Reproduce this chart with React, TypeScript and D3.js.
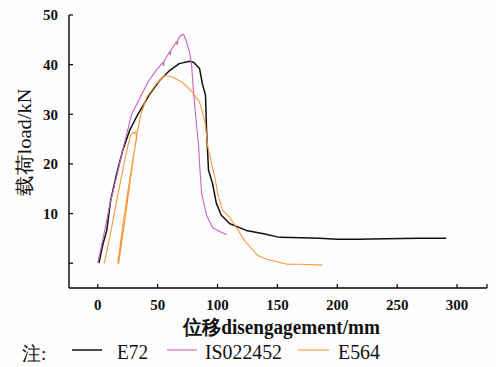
import React from 'react';
import * as d3 from 'd3';

// load (kN) vs disengagement (mm)
const e72: [number, number][] = [
  [1, 0], [4, 3.5], [7.5, 6.6], [10.8, 12.7], [15, 17.2], [20.8, 22.7], [26.7, 26.8],
  [33.5, 30], [37.5, 31.6], [43, 33.9], [51.7, 36.8], [60, 38.8], [68, 40.2], [76.7, 40.7],
  [80, 40.5], [85, 39.2], [87.5, 36], [90, 33.8], [90.8, 27], [92.5, 18.7], [95.8, 16.1],
  [99, 12.1], [103, 9.7], [110, 8.0], [124, 6.6], [137.5, 6.0], [152, 5.2], [170, 5.1],
  [185, 5.0], [200, 4.8], [218, 4.8], [240, 4.9], [268, 5.0], [291, 5.0],
];

const iso22452: [number, number][] = [
  [0, 0], [5, 5.6], [10, 11.7], [16, 17.7], [21.7, 23.7], [28.3, 30], [35, 33.2],
  [41.7, 36.4], [48.3, 38.7], [54.2, 40.4], [55, 39.8], [55.4, 40.7], [60, 42.6], [60.6, 42],
  [61, 42.9], [65.8, 44.6], [66.4, 44], [66.8, 45], [69.2, 45.9], [71.7, 46.1], [74.2, 44.5],
  [76.7, 42.5], [78.3, 40], [80, 34.4], [82.5, 27.8], [84.2, 23.7], [85, 20.1], [86.7, 14.1],
  [90.8, 9.7], [95.8, 7.2], [101.7, 6.4], [107.5, 5.8],
];

const e564: [number, number][] = [
  [5.5, 0], [10, 5.2], [15, 11.5], [19.2, 16.7], [24.2, 22.7], [27.5, 25.8], [29.2, 26.2],
  [31.7, 26.4], [32.5, 25.2], [29.2, 20.7], [22.5, 10.3], [16.7, 0], [17.5, 0], [23.3, 9.7],
  [28.3, 18.7], [32.5, 25.8], [35.8, 29.8], [40.8, 33.4], [49.2, 36.2], [55.8, 37.8],
  [62.5, 37.5], [70.8, 36.4], [79.2, 34.4], [85, 32.4], [87.5, 30.4], [90, 27.8], [91.7, 23.7],
  [95, 20.1], [98.3, 16.7], [100.8, 13.3], [104.2, 10.7], [110, 9.3], [115.8, 7.2],
  [122.5, 4.6], [133.3, 1.6], [140.8, 0.8], [158.3, -0.2], [168.3, -0.2], [187.5, -0.4],
];

const xTicks = [0, 50, 100, 150, 200, 250, 300];
const xMinorTicks = [325];
const yTicks = [10, 20, 30, 40, 50];
const yMinorTicks = [0];

const series = [
  { name: 'E72', data: e72, color: '#111111', width: 1.5 },
  { name: 'IS022452', data: iso22452, color: '#c663bd', width: 1.1 },
  { name: 'E564', data: e564, color: '#f59a3c', width: 1.1 },
];

const FONT = 'Liberation Serif';

export default function App() {
  const x = d3.scaleLinear().domain([-24, 325]).range([69, 487]);
  const y = d3.scaleLinear().domain([-5, 50]).range([288, 15]);
  const line = d3.line<[number, number]>().x(d => x(d[0])).y(d => y(d[1]));

  const x0 = x(-24);
  const y0 = y(-5);

  const legendItems = [
    { line: [72, 102], text: 117, width: 31 },
    { line: [167, 197], text: 205, width: 77 },
    { line: [298, 329], text: 338, width: 42 },
  ];

  return (
    <svg width={496} height={367} style={{ position: 'absolute', left: 0, top: 0, background: '#fdfdfd' }}>
      {/* axes */}
      <line x1={x0} x2={x0} y1={y(50)} y2={y0} stroke="#000" strokeWidth={1.4} />
      <line x1={x0} x2={x(325)} y1={y0} y2={y0} stroke="#000" strokeWidth={1.4} />
      {[...yTicks, ...yMinorTicks].map(t => (
        <line key={'yt' + t} x1={x0} x2={x0 + 4} y1={y(t)} y2={y(t)} stroke="#000" strokeWidth={1.2} />
      ))}
      {[...xTicks, ...xMinorTicks].map(t => (
        <line key={'xt' + t} x1={x(t)} x2={x(t)} y1={y0} y2={y0 - 4} stroke="#000" strokeWidth={1.2} />
      ))}
      {yTicks.map(t => (
        <text key={'yl' + t} x={58} y={y(t)} dy="0.35em" textAnchor="end"
          fontFamily={FONT} fontSize={15} fontWeight="bold" fill="#111">{t}</text>
      ))}
      {xTicks.map(t => (
        <text key={'xl' + t} x={x(t)} y={310} textAnchor="middle"
          fontFamily={FONT} fontSize={15} fontWeight="bold" fill="#111">{t}</text>
      ))}

      {/* axis titles */}
      <text transform="translate(31,142) rotate(-90)" textAnchor="middle"
        fontFamily={FONT} fontSize={19} fill="#111" textLength={107} lengthAdjust="spacingAndGlyphs">
        载荷load/kN
      </text>
      <text x={183} y={334} fontFamily={FONT} fontSize={20} fontWeight="bold" fill="#111"
        textLength={197} lengthAdjust="spacingAndGlyphs">
        位移disengagement/mm
      </text>

      {/* curves */}
      {series.map(s => (
        <path key={s.name} d={line(s.data) || ''} fill="none" stroke={s.color}
          strokeWidth={s.width} strokeLinejoin="round" />
      ))}

      {/* legend */}
      <text x={22} y={360} fontFamily={FONT} fontSize={19} fill="#111">注:</text>
      {series.map((s, i) => (
        <g key={'lg' + s.name}>
          <line x1={legendItems[i].line[0]} x2={legendItems[i].line[1]} y1={350} y2={350}
            stroke={s.color} strokeWidth={s.width} />
          <text x={legendItems[i].text} y={359} fontFamily={FONT} fontSize={20} fill="#111"
            textLength={legendItems[i].width} lengthAdjust="spacingAndGlyphs">{s.name}</text>
        </g>
      ))}
    </svg>
  );
}
